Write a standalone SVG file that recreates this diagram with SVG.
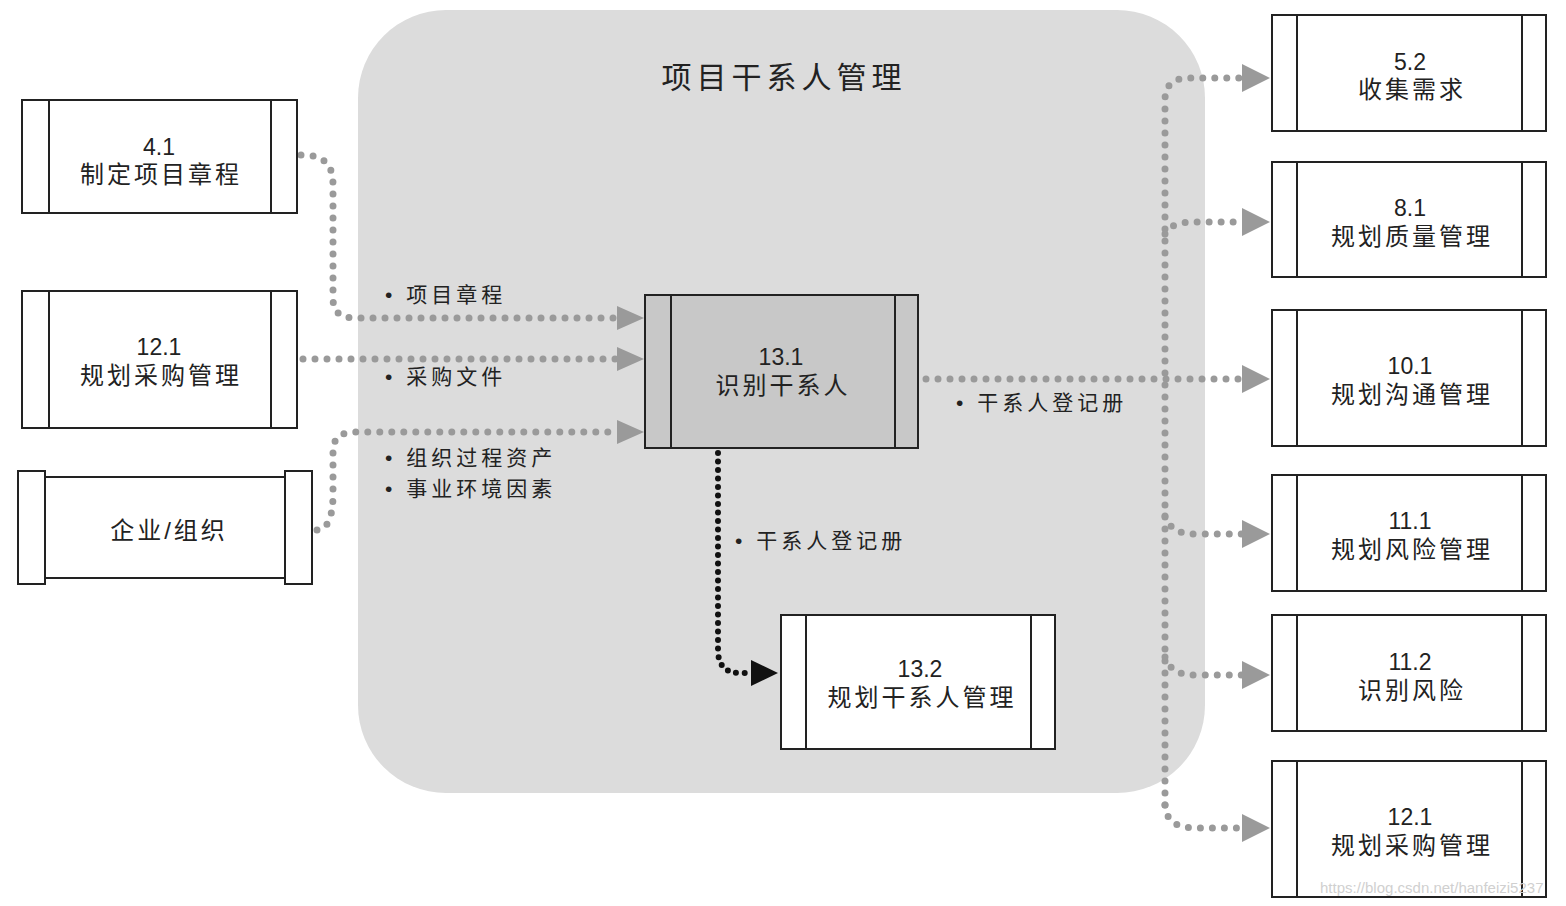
<svg xmlns="http://www.w3.org/2000/svg" width="1566" height="906" viewBox="0 0 1566 906">
<defs>
<style>
.box{fill:#fff;stroke:#222;stroke-width:2}
.ln{stroke:#222;stroke-width:2}
.t{font-family:"Liberation Sans","Noto Sans CJK SC",sans-serif;font-size:24px;fill:#222;text-anchor:middle;letter-spacing:3px}
.n{font-family:"Liberation Sans","Noto Sans CJK SC",sans-serif;font-size:23px;fill:#222;text-anchor:middle}
.lb{font-family:"Liberation Sans","Noto Sans CJK SC",sans-serif;font-size:21px;fill:#222;letter-spacing:4px}
.g{fill:none;stroke:#9a9a9a;stroke-width:7;stroke-linecap:round;stroke-dasharray:0 12}
.k{fill:none;stroke:#111;stroke-width:6;stroke-linecap:round;stroke-dasharray:0 8.5}
</style>
<marker id="ag" markerUnits="userSpaceOnUse" markerWidth="28" markerHeight="26" refX="0" refY="13" orient="auto" overflow="visible"><path d="M0,1 L27,13 L0,25 Z" fill="#9a9a9a"/></marker>
<marker id="agr" markerUnits="userSpaceOnUse" markerWidth="30" markerHeight="30" refX="0" refY="15" orient="auto" overflow="visible"><path d="M0,1 L28,15 L0,29 Z" fill="#9a9a9a"/></marker>
<marker id="ak" markerUnits="userSpaceOnUse" markerWidth="28" markerHeight="26" refX="0" refY="13" orient="auto" overflow="visible"><path d="M0,0 L27,13 L0,26 Z" fill="#111"/></marker>
</defs>
<rect width="1566" height="906" fill="#fff"/>
<g id="group-frame">
<rect x="358" y="10" width="847" height="783" rx="88" ry="88" fill="#dcdcdc"/>
<text x="784" y="88" class="t" style="font-size:30px;letter-spacing:5px">项目干系人管理</text>
</g>
<g id="connectors">
<path class="g" d="M301,155 C325,155 333,165 333,185 L333,298 C333,312 340,318 356,318 L617,318" marker-end="url(#ag)"/>
<path class="g" d="M303,359 L617,359" marker-end="url(#ag)"/>
<path class="g" d="M317,530 C328,530 333,515 333,495 L333,452 C333,438 340,432 356,432 L617,432" marker-end="url(#ag)"/>
<path class="g" d="M926,379 L1242,379" marker-end="url(#agr)"/>
<path class="g" d="M1165,805 L1165,100 C1165,86 1172,78 1190,78 L1242,78" marker-end="url(#agr)"/>
<path class="g" d="M1165,234 C1170,225 1180,222 1196,222 L1242,222" marker-end="url(#agr)"/>
<path class="g" d="M1165,516 C1170,530 1180,534 1196,534 L1242,534" marker-end="url(#agr)"/>
<path class="g" d="M1165,657 C1170,671 1180,675 1196,675 L1242,675" marker-end="url(#agr)"/>
<path class="g" d="M1165,805 C1166,820 1175,828 1196,828 L1242,828" marker-end="url(#agr)"/>
<path class="k" d="M718,453 L718,650 C718,665 725,673 740,673 L751,673" marker-end="url(#ak)"/>
<text x="385" y="302" class="lb">• 项目章程</text>
<text x="385" y="384" class="lb">• 采购文件</text>
<text x="385" y="465" class="lb">• 组织过程资产</text>
<text x="385" y="496" class="lb">• 事业环境因素</text>
<text x="735" y="548" class="lb">• 干系人登记册</text>
<text x="956" y="410" class="lb">• 干系人登记册</text>
</g>
<g id="node-4-1">
<rect class="box" x="22" y="100" width="275" height="113"/>
<line class="ln" x1="49" y1="100" x2="49" y2="213"/><line class="ln" x1="271" y1="100" x2="271" y2="213"/>
<text x="159" y="155" class="n">4.1</text><text x="161" y="183" class="t">制定项目章程</text>
</g>
<g id="node-12-1-left">
<rect class="box" x="22" y="291" width="275" height="137"/>
<line class="ln" x1="49" y1="291" x2="49" y2="428"/><line class="ln" x1="271" y1="291" x2="271" y2="428"/>
<text x="159" y="355" class="n">12.1</text><text x="161" y="384" class="t">规划采购管理</text>
</g>
<g id="node-org">
<rect class="box" x="45" y="477" width="240" height="101"/>
<rect class="box" x="18" y="471" width="27" height="113"/>
<rect class="box" x="285" y="471" width="27" height="113"/>
<text x="169" y="539" class="t">企业/组织</text>
</g>
<g id="node-13-1">
<rect x="645" y="295" width="273" height="153" fill="#c8c8c8" stroke="#222" stroke-width="2"/>
<line class="ln" x1="671" y1="295" x2="671" y2="448"/><line class="ln" x1="895" y1="295" x2="895" y2="448"/>
<text x="781" y="365" class="n">13.1</text><text x="783" y="394" class="t">识别干系人</text>
</g>
<g id="node-13-2">
<rect class="box" x="781" y="615" width="274" height="134"/>
<line class="ln" x1="806" y1="615" x2="806" y2="749"/><line class="ln" x1="1031" y1="615" x2="1031" y2="749"/>
<text x="920" y="677" class="n">13.2</text><text x="922" y="706" class="t">规划干系人管理</text>
</g>
<g id="node-5-2">
<rect class="box" x="1272" y="15" width="274" height="116"/>
<line class="ln" x1="1297" y1="15" x2="1297" y2="131"/><line class="ln" x1="1522" y1="15" x2="1522" y2="131"/>
<text x="1410" y="70" class="n">5.2</text><text x="1412" y="98" class="t">收集需求</text>
</g>
<g id="node-8-1">
<rect class="box" x="1272" y="162" width="274" height="115"/>
<line class="ln" x1="1297" y1="162" x2="1297" y2="277"/><line class="ln" x1="1522" y1="162" x2="1522" y2="277"/>
<text x="1410" y="216" class="n">8.1</text><text x="1412" y="245" class="t">规划质量管理</text>
</g>
<g id="node-10-1">
<rect class="box" x="1272" y="310" width="274" height="136"/>
<line class="ln" x1="1297" y1="310" x2="1297" y2="446"/><line class="ln" x1="1522" y1="310" x2="1522" y2="446"/>
<text x="1410" y="374" class="n">10.1</text><text x="1412" y="403" class="t">规划沟通管理</text>
</g>
<g id="node-11-1">
<rect class="box" x="1272" y="475" width="274" height="116"/>
<line class="ln" x1="1297" y1="475" x2="1297" y2="591"/><line class="ln" x1="1522" y1="475" x2="1522" y2="591"/>
<text x="1410" y="529" class="n">11.1</text><text x="1412" y="558" class="t">规划风险管理</text>
</g>
<g id="node-11-2">
<rect class="box" x="1272" y="615" width="274" height="116"/>
<line class="ln" x1="1297" y1="615" x2="1297" y2="731"/><line class="ln" x1="1522" y1="615" x2="1522" y2="731"/>
<text x="1410" y="670" class="n">11.2</text><text x="1412" y="699" class="t">识别风险</text>
</g>
<g id="node-12-1-right">
<rect class="box" x="1272" y="761" width="274" height="136"/>
<line class="ln" x1="1297" y1="761" x2="1297" y2="897"/><line class="ln" x1="1522" y1="761" x2="1522" y2="897"/>
<text x="1410" y="825" class="n">12.1</text><text x="1412" y="854" class="t">规划采购管理</text>
</g>
<text x="1320" y="893" style="font-family:'Liberation Sans',sans-serif;font-size:15px;fill:#d0d0d0">https://blog.csdn.net/hanfeizi5237</text>
</svg>
